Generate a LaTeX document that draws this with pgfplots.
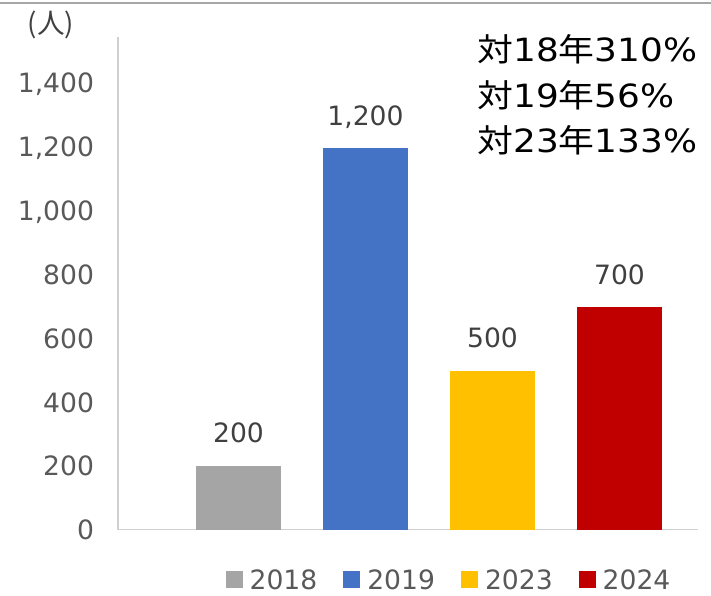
\documentclass[border=0pt]{standalone}
\usepackage{fontspec}
\setmainfont{DejaVu Sans}
\newfontfamily\cjk{Noto Sans CJK JP}
\usepackage{pgfplots}
\pgfplotsset{compat=1.18}
\usepackage{xcolor}

\definecolor{c2018}{HTML}{A5A5A5}
\definecolor{c2019}{HTML}{4472C4}
\definecolor{c2023}{HTML}{FFC000}
\definecolor{c2024}{HTML}{C00000}
\definecolor{axisgray}{HTML}{D0D0D0}
\definecolor{topgray}{HTML}{A6A6A6}
\definecolor{ticktext}{HTML}{595959}
\definecolor{labeltext}{HTML}{404040}

\begin{document}
\begin{tikzpicture}
\useasboundingbox (-59pt,-32.75pt) rectangle (296.5pt,264.75pt);
\begin{axis}[
    at={(0,0)}, anchor=south west,
    width=290pt, height=246.25pt, scale only axis,
    ybar,
    xmin=0.051, xmax=4.618,
    ymin=0, ymax=1550,
    enlargelimits=false,
    axis x line*=bottom, axis y line*=left,
    x axis line style={draw=axisgray, line width=0.8pt, -},
    y axis line style={draw=axisgray, line width=0.8pt, -},
    xtick=\empty,
    ytick={0,200,...,1400},
    major tick length=0pt,
    /pgf/number format/.cd, 1000 sep={,}, assume math mode=true,
    /pgfplots/.cd,
    yticklabel style={font=\fontsize{13.3}{16}\selectfont, text=ticktext, inner sep=0pt, xshift=-11.8pt},
    nodes near coords,
    every node near coord/.append style={font=\fontsize{13.3}{16}\selectfont, text=labeltext, anchor=base, inner sep=0pt, yshift=11.5pt},
    legend columns=4,
    legend style={draw=none, fill=none, at={(axis description cs:0.569,-0.1045)}, anchor=center,
        font=\fontsize{13.3}{16}\selectfont, text=ticktext,
        nodes={inner sep=0pt},
        /tikz/every odd column/.append style={column sep=3.5pt},
        /tikz/every even column/.append style={column sep=13pt}},
    legend image code/.code={\fill[#1] (0pt,-3.5pt) rectangle (8.5pt,5pt);},
]
\addplot[fill=c2018, draw=none, bar width=42.5pt, bar shift=0pt] coordinates {(1,200)};
\addplot[fill=c2019, draw=none, bar width=42.5pt, bar shift=0pt] coordinates {(2,1200)};
\addplot[fill=c2023, draw=none, bar width=42.5pt, bar shift=0pt] coordinates {(3,500)};
\addplot[fill=c2024, draw=none, bar width=42.5pt, bar shift=0pt] coordinates {(4,700)};
\legend{2018,2019,2023,2024}
\end{axis}
% thin rule along the top edge
\draw[topgray, line width=1pt] (-59pt,263.25pt) -- (296.5pt,263.25pt);
% unit
\node[text=labeltext, font=\fontsize{13.8}{16}\selectfont] at (-33.5pt,252.25pt) {\cjk (人)};
% growth notes
\begin{scope}[every node/.style={anchor=base west, inner sep=0pt, font=\fontsize{16}{19}\selectfont, xscale=1.12, transform shape}]
\node at (179.5pt,233.9pt) {{\cjk 対}18{\cjk 年}310\%};
\node at (179.5pt,210.75pt) {{\cjk 対}19{\cjk 年}56\%};
\node at (179.5pt,188.25pt) {{\cjk 対}23{\cjk 年}133\%};
\end{scope}
\end{tikzpicture}
\end{document}
